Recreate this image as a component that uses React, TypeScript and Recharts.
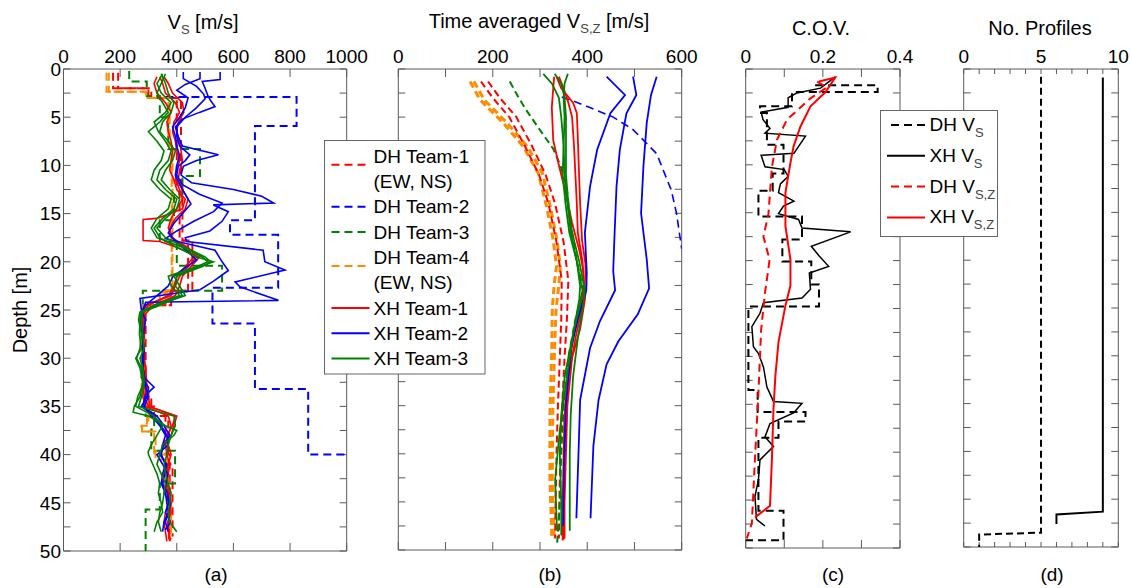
import { Scatter, ScatterChart, XAxis, YAxis } from 'recharts';

type P = [number, number]; // [depth (m), value]

const RED = '#ff0000';
const BLUE = '#0000ff';
const GREEN = '#008000';
const ORANGE = '#ff8c00';
const AXIS = '#5a5a5a';
const FONT = '"Liberation Sans", Arial, Helvetica, sans-serif';

const DEPTH_TICKS = [0, 2.5, 5, 7.5, 10, 12.5, 15, 17.5, 20, 22.5, 25, 27.5, 30, 32.5, 35, 37.5, 40, 42.5, 45, 47.5, 50];
const VS_TICKS = [0, 200, 400, 600, 800, 1000];
const VSZ_TICKS = [0, 100, 200, 300, 400, 500, 600];
const COV_TICKS = [0, 0.1, 0.2, 0.3, 0.4];
const NP_TICKS = [0, 1, 2, 3, 4, 5, 6, 7, 8, 9, 10];

// ---- (a) Vs profiles ----
const A_DH1a: P[] = [[0.4,175],[2.0,175],[2.0,300],[3.0,300],[3.0,400],[12,400],[12,420],[17.8,420],[17.8,440],[23,440],[23,360],[24.5,360],[24.5,285],[33,285],[33,300],[35,300],[35,320],[36,320],[36,360],[40,360],[40,375],[49,375]];
const A_DH1b: P[] = [[0.4,193],[2.0,193],[2.0,310],[3.0,310],[3.0,415],[12,415],[12,410],[17.8,410],[17.8,455],[23,455],[23,380],[24.5,380],[24.5,290],[34,290],[34,310],[36,310],[36,370],[41,370],[41,385],[48.5,385]];
const A_DH2: P[] = [[2.9,360],[2.9,823],[5.9,823],[5.9,676],[15.7,676],[15.7,588],[17.2,588],[17.2,758],[22.7,758],[22.7,526],[26.4,526],[26.4,676],[33.2,676],[33.2,864],[40,864],[40,1000]];
const A_DH3: P[] = [[0.2,232],[1.3,232],[1.3,294],[2.8,294],[2.8,340],[5,340],[5,370],[8.3,370],[8.3,482],[11.1,482],[11.1,420],[13,420],[13,390],[15.7,390],[15.7,340],[17.9,340],[17.9,400],[20.4,400],[20.4,560],[23,560],[23,280],[33,280],[33,290],[36,290],[36,320],[37.4,320],[37.4,310],[39.6,310],[39.6,394],[43,394],[43,340],[45.7,340],[45.7,290],[50,290]];
const A_DH4a: P[] = [[0.4,152],[2.35,152],[2.35,290],[3.0,290],[3.0,370],[8,370],[8,385],[23,385],[23,340],[24.5,340],[24.5,280],[33,280],[33,300],[37,300],[37,275],[37.6,275],[37.6,320],[40,320],[40,365],[45,365],[45,375],[48.8,375]];
const A_DH4b: P[] = [[0.4,160],[2.35,160],[2.35,292],[3.0,292],[3.0,375],[8,375],[8,382],[23.2,382],[23.2,345],[24.7,345],[24.7,276],[33.5,276],[33.5,295],[37,295],[37,277],[37.6,277],[37.6,325],[40.5,325],[40.5,370],[44.5,370],[44.5,380],[48.8,380]];
const A_XH1a: P[] = [[0.8,340],[1.5,350],[2.5,360],[3.5,395],[4.5,410],[5.5,390],[6.5,385],[7.5,395],[8.5,400],[9.5,410],[10.5,400],[11.5,395],[12.5,410],[13.5,420],[14.5,400],[15.5,380],[16.5,370],[17.5,385],[18.5,430],[19.5,460],[20.5,430],[21.5,400],[22.5,390],[23.5,370],[24.5,300],[25.5,280],[26.5,285],[28,282],[30,285],[31.5,290],[33,285],[34,280],[35,290],[36,370],[37,380],[38,370],[39,360],[40,365],[41,375],[42,370],[43,365],[44,375],[45,380],[46,375],[47,370],[48,372],[48.8,372]];
const A_XH1b: P[] = [[0.8,330],[1.5,320],[2.5,330],[3.5,360],[4.5,380],[5.5,365],[6.5,370],[7.5,380],[8.5,385],[9.5,380],[10.5,375],[11.5,390],[12.5,400],[13.5,430],[14.5,420],[15.5,330],[15.6,281],[17.8,281],[17.9,340],[18.5,400],[19.5,480],[20.5,450],[21.5,420],[22.5,410],[23.5,395],[24.5,320],[25.5,285],[27,280],[29,278],[31,290],[33,295],[34,285],[35,300],[36,400],[37,390],[38,380],[39,350],[40,345],[41,360],[42,355],[43,350],[44,365],[45,370],[46,360],[47,355],[48,360],[49,365]];
const A_XH1c: P[] = [[0.8,355],[1.5,370],[2.5,385],[3.5,420],[4.5,425],[5.5,405],[6.5,400],[7.5,410],[8.5,415],[9.5,420],[10.5,410],[11.5,405],[12.5,420],[13.5,440],[14.5,430],[15.5,395],[16.5,375],[17.5,380],[18.5,440],[19.5,470],[20.5,440],[21.5,410],[22.5,395],[23.5,380],[24.5,290],[25.5,275],[27,280],[29,285],[31,280],[33,290],[34,300],[35,305],[36,395],[37,385],[38,365],[39,370],[40,380],[41,370],[42,365],[43,360],[44,370],[45,375],[46,380],[47,368],[48,370],[48.9,378]];
const A_XH2a: P[] = [[0.3,553],[1.1,553],[1.3,490],[2.0,500],[2.8,510],[3.3,520],[3.9,535],[4.5,480],[5.2,420],[6.0,395],[7,405],[8,420],[8.9,547],[9.5,470],[10.1,423],[11,415],[11.8,452],[12.5,600],[13.2,700],[13.9,742],[14.1,529],[14.8,582],[15.8,560],[16.8,517],[17.5,430],[17.9,435],[18.8,705],[20.0,711],[20.85,782],[22.1,606],[22.6,623],[24.0,759],[24.2,290],[25,280],[26,275],[28,282],[30,278],[32,285],[33,320],[33.8,290],[35,280],[36,330],[37,355],[38,375],[39,355],[40,340],[41,365],[42,358],[43,350],[44,368],[45,372],[46,360],[47,378],[47.8,360]];
const A_XH2b: P[] = [[0.3,423],[1.0,423],[1.8,470],[2.6,495],[3.1,500],[4,470],[5,430],[6,400],[7,400],[8,410],[8.9,446],[9.5,430],[10.1,405],[11,400],[12,420],[13,480],[13.9,560],[14.8,530],[15.8,460],[16.8,400],[17.6,360],[18.8,535],[20.0,560],[20.9,582],[22,530],[22.9,482],[23.8,270],[25,275],[26,290],[28,280],[30,282],[32,275],[33,300],[34,295],[35,275],[36,320],[37,345],[38,365],[39,370],[40,330],[41,350],[42,368],[43,362],[44,355],[45,378],[46,370],[47,360],[48,370]];
const A_XH2c: P[] = [[0.3,482],[1.0,482],[1.6,430],[2.2,400],[3,440],[4,430],[5,410],[6,385],[7,395],[8,400],[9,410],[10,400],[11,395],[12,410],[13,430],[14,450],[15,420],[16,390],[17,370],[18,400],[19,440],[19.8,470],[21.5,387],[22.5,370],[23.5,330],[24.5,290],[25.5,270],[27,275],[29,285],[31,280],[33,290],[34,300],[35,285],[36,310],[37,340],[38,360],[39,350],[40,345],[41,360],[42,350],[43,345],[44,360],[45,365],[46,370],[47,355],[48,350]];
const A_XH3a: P[] = [[0.5,350],[1.5,330],[2.5,345],[3.5,380],[4.5,360],[5.5,320],[6.5,335],[7.5,360],[8.5,380],[9.5,370],[10.5,340],[11.5,330],[12.5,360],[13.5,400],[14.5,390],[15.5,350],[16.5,320],[17.5,340],[18.5,400],[19.5,470],[20,529],[20.5,480],[21.5,390],[22.5,410],[23.5,430],[24.5,330],[25.2,275],[26,270],[27.5,268],[29,275],[30,255],[31,270],[32.5,280],[34,270],[35,250],[35.6,246],[36,300],[37,360],[37.5,400],[38,390],[39,350],[40,340],[41,330],[42,345],[43,360],[44,355],[45,350],[46,340],[47,335],[48,345]];
const A_XH3b: P[] = [[0.5,360],[1.5,345],[2.5,330],[3.5,350],[4.5,370],[5.5,340],[6.5,300],[7.5,330],[8.5,355],[9.5,345],[10.5,320],[11.5,310],[12.5,340],[13.5,380],[14.5,370],[15.5,330],[16.5,310],[17.5,330],[18.5,420],[19.5,490],[20,510],[20.5,470],[21.5,370],[22.5,380],[23.5,410],[24.5,320],[25.2,270],[26,265],[27.5,275],[29,270],[30,258],[31,275],[32.5,285],[34,262],[35,255],[36,320],[37,350],[38,330],[39,310],[39.7,299],[40,300],[41,315],[42,330],[43,340],[44,335],[45,345],[46,350],[47,330],[48,320]];
const A_XH3c: P[] = [[0.5,345],[1.5,360],[2.5,370],[3.5,390],[4.5,380],[5.5,350],[6.5,340],[7.5,370],[8.5,395],[9.5,385],[10.5,360],[11.5,345],[12.5,375],[13.5,410],[14.5,400],[15.5,360],[16.5,330],[17.5,360],[18.5,430],[19.5,500],[20,520],[20.5,490],[21.5,400],[22.5,395],[23.5,420],[24.5,340],[25.2,280],[26,275],[27.5,280],[29,285],[30,270],[31,280],[32.5,285],[34,275],[35,265],[36,390],[37,395],[38,380],[39,370],[40,365],[41,355],[42,360],[43,370],[44,380],[45,375],[46,370],[47,375],[48,400]];

// ---- (b) time averaged Vs,z ----
const B_DH1a: P[] = [[1.3,175],[3,200],[5,235],[8,268],[11,298],[14,318],[18,335],[22,346],[26,345],[30,342],[35,338],[40,335],[45,333],[48.8,332]];
const B_DH1b: P[] = [[1.3,190],[3,215],[5,250],[8,283],[11,312],[14,332],[18,350],[22,360],[26,357],[30,352],[35,347],[40,343],[45,341],[48.8,340]];
const B_DH2: P[] = [[2.9,346],[3.6,385],[5,455],[6.3,497],[8.8,547],[12.6,578],[15,589],[18.7,600]];
const B_DH3: P[] = [[1.3,236],[3,255],[4.2,270],[6,295],[8.3,328],[10,343],[12.1,356],[16,365],[20,378],[23,392],[26,375],[30,360],[35,350],[40,345],[45,342],[49.5,336]];
const B_DH4a: P[] = [[1.3,152],[3.2,173],[5.6,222],[8.1,265],[10.8,296],[14.3,314],[17.8,328],[20.5,335],[22.4,330],[25,326],[28.9,325],[35.8,321],[42.7,321],[48.6,325]];
const B_DH4b: P[] = [[1.3,160],[3.2,182],[5.6,230],[8.1,274],[10.8,305],[14.3,322],[17.8,336],[20.5,343],[22.4,340],[25,334],[28.9,331],[35.8,327],[42.7,326],[48.6,330]];
const B_XH1a: P[] = [[0.8,335],[2,345],[3.5,370],[4.6,378],[7,380],[10,382],[14,385],[17.8,389],[20.2,396],[22.5,398],[24,395],[27,385],[30,368],[35,358],[40,355],[45,352],[48.8,352]];
const B_XH1b: P[] = [[0.8,330],[2,328],[4,325],[7.4,328],[10,340],[13,355],[16,368],[19,384],[21,392],[23,394],[25,388],[28,375],[32,360],[36,352],[40,350],[45,348],[49,348]];
const B_XH1c: P[] = [[0.8,340],[2,350],[3.5,360],[5,368],[8,372],[11,375],[14,378],[17,380],[20,390],[22.5,393],[25,385],[28,370],[32,358],[36,352],[40,352],[45,350],[48.9,350]];
const B_XH2a: P[] = [[0.8,441],[2.7,480],[4.6,449],[8.4,421],[12.2,406],[17,395],[21.2,399],[23,398],[26,380],[29,366],[35,355],[41,351],[47.5,349]];
const B_XH2b: P[] = [[0.8,497],[2.7,504],[4.6,483],[8.4,469],[12.2,462],[17,458],[21,455],[23,459],[26.2,427],[29,406],[34.4,385],[39.2,382],[46.7,377]];
const B_XH2c: P[] = [[0.8,547],[2.7,535],[5.6,526],[10.1,519],[15,514],[19.8,526],[22.8,531],[25.5,507],[28.3,466],[30.7,441],[34.4,424],[39.2,413],[46.7,407]];
const B_XH3a: P[] = [[0.5,307],[1.5,325],[3,340],[5,345],[8,350],[11,352],[14,358],[17,365],[20,378],[22.6,385],[24,383],[27,372],[32,357],[37.5,342],[42.7,332],[48,336]];
const B_XH3b: P[] = [[0.5,331],[1.5,345],[3,352],[5,355],[8,355],[11,355],[14,360],[17,368],[20,383],[23,395],[25,390],[28,380],[32,370],[36,365],[40,363],[45,363],[48,363]];
const B_XH3c: P[] = [[0.5,359],[1.5,352],[3,350],[5,352],[8,350],[11,348],[14,354],[17,362],[20,378],[23,390],[25,382],[28,368],[32,352],[36,345],[40,342],[45,345],[48.5,345]];

// ---- (c) coefficient of variation ----
const C_DH_VS: P[] = [[1.7,0.18],[1.7,0.342],[2.4,0.342],[2.4,0.12],[3.9,0.12],[3.9,0.037],[4.6,0.037],[4.6,0.055],[7.9,0.055],[7.9,0.098],[10.9,0.098],[10.9,0.07],[12.7,0.07],[12.7,0.033],[15.4,0.033],[15.4,0.146],[17.8,0.146],[17.8,0.095],[20.1,0.095],[20.1,0.17],[22.5,0.17],[22.5,0.19],[24.8,0.19],[24.8,0.007],[33.5,0.007],[33.5,0.031],[35.8,0.031],[35.8,0.155],[36.8,0.155],[36.8,0.085],[38.5,0.085],[38.5,0.033],[46.1,0.033],[46.1,0.098],[49.2,0.098],[49.2,0.0]];
const C_XH_VS: P[] = [[0.8,0.233],[2.0,0.194],[2.5,0.133],[3.0,0.11],[4.0,0.11],[4.5,0.04],[5.3,0.045],[6.2,0.063],[6.7,0.05],[7.0,0.155],[8.8,0.125],[9.0,0.04],[10.2,0.05],[10.5,0.1],[11.2,0.11],[12.0,0.09],[12.9,0.085],[13.8,0.125],[14.3,0.098],[15.1,0.085],[15.7,0.137],[16.6,0.146],[17.0,0.272],[18.5,0.17],[19.5,0.19],[20.6,0.215],[21.3,0.165],[23.0,0.168],[23.9,0.146],[24.4,0.046],[25.5,0.037],[26.9,0.016],[29,0.02],[29.7,0.033],[31.1,0.046],[33.2,0.055],[34.7,0.072],[34.9,0.146],[35.9,0.124],[37,0.063],[38.4,0.05],[39.4,0.072],[40.8,0.037],[42.9,0.033],[44.6,0.024],[47,0.028],[47.7,0.05]];
const C_DH_VSZ: P[] = [[1.33,0.185],[1.9,0.211],[3.06,0.168],[5.3,0.107],[7.4,0.081],[10.2,0.068],[15.1,0.059],[17.5,0.046],[19.9,0.062],[23.4,0.05],[27.2,0.04],[33.8,0.033],[40.7,0.024],[47.4,0.016],[49,0.003]];
const C_XH_VSZ: P[] = [[1.3,0.19],[0.9,0.232],[2.4,0.207],[3.9,0.168],[6.0,0.142],[8.1,0.124],[9.8,0.116],[12.9,0.103],[16.4,0.103],[19.9,0.116],[22.6,0.116],[24.7,0.103],[28.5,0.085],[32,0.077],[35.5,0.072],[40.7,0.068],[45.6,0.063],[46.8,0.024]];

// ---- (d) number of profiles ----
const D_DH: P[] = [[0.8,5],[48.5,5],[48.7,1],[50,1]];
const D_XH: P[] = [[0.9,9],[46.3,9],[46.6,6],[47.6,6]];

interface Series { pts: P[]; color: string; w: number; dash?: string }

const DASH = '8 5';

const SERIES_A: Series[] = [
  { pts: A_DH1a, color: RED, w: 2, dash: DASH },
  { pts: A_DH1b, color: RED, w: 2, dash: DASH },
  { pts: A_DH2, color: BLUE, w: 2, dash: DASH },
  { pts: A_DH3, color: GREEN, w: 2, dash: DASH },
  { pts: A_DH4a, color: ORANGE, w: 2, dash: DASH },
  { pts: A_DH4b, color: ORANGE, w: 2, dash: DASH },
  { pts: A_XH1a, color: RED, w: 1.6 },
  { pts: A_XH1b, color: RED, w: 1.6 },
  { pts: A_XH1c, color: RED, w: 1.6 },
  { pts: A_XH2a, color: BLUE, w: 1.6 },
  { pts: A_XH2b, color: BLUE, w: 1.6 },
  { pts: A_XH2c, color: BLUE, w: 1.6 },
  { pts: A_XH3a, color: GREEN, w: 1.6 },
  { pts: A_XH3b, color: GREEN, w: 1.6 },
  { pts: A_XH3c, color: GREEN, w: 1.6 },
];

const SERIES_B: Series[] = [
  { pts: B_DH4a, color: ORANGE, w: 3, dash: '7 4' },
  { pts: B_DH4b, color: ORANGE, w: 3, dash: '7 4' },
  { pts: B_DH1a, color: RED, w: 2, dash: '7 4' },
  { pts: B_DH1b, color: RED, w: 2, dash: '7 4' },
  { pts: B_DH2, color: BLUE, w: 1.6, dash: DASH },
  { pts: B_DH3, color: GREEN, w: 2, dash: '7 4' },
  { pts: B_XH1a, color: RED, w: 1.8 },
  { pts: B_XH1b, color: RED, w: 1.8 },
  { pts: B_XH1c, color: RED, w: 1.8 },
  { pts: B_XH2a, color: BLUE, w: 1.8 },
  { pts: B_XH2b, color: BLUE, w: 1.8 },
  { pts: B_XH2c, color: BLUE, w: 1.8 },
  { pts: B_XH3a, color: GREEN, w: 1.8 },
  { pts: B_XH3b, color: GREEN, w: 1.8 },
  { pts: B_XH3c, color: GREEN, w: 1.8 },
];

const SERIES_C: Series[] = [
  { pts: C_DH_VS, color: '#000', w: 2, dash: DASH },
  { pts: C_XH_VS, color: '#000', w: 1.5 },
  { pts: C_DH_VSZ, color: RED, w: 2, dash: DASH },
  { pts: C_XH_VSZ, color: RED, w: 2 },
];

const SERIES_D: Series[] = [
  { pts: D_DH, color: '#000', w: 2, dash: '7 4' },
  { pts: D_XH, color: '#000', w: 2 },
];

const EmptyDot = () => <g />;
const blank = () => '';
const TICK = { fill: '#000', fontSize: 19, fontFamily: FONT };

interface PanelProps {
  left: number; width: number;
  plot: { l: number; r: number; t: number; b: number };
  domain: [number, number]; ticks: number[];
  xFmt: (v: number, i: number) => string;
  depthLabels?: boolean;
  xTick?: number;
  series: Series[];
}

function Panel({ left, width, plot, domain, ticks, xFmt, depthLabels, xTick = 8, series }: PanelProps) {
  const yw = depthLabels ? 30 : 10;
  const margin = { top: plot.t - 20, bottom: 588 - plot.b - 10, left: plot.l - left - yw, right: left + width - plot.r - 10 };
  return (
    <div style={{ position: 'absolute', left, top: 0 }}>
      <ScatterChart width={width} height={588} margin={margin}>
        <XAxis xAxisId="t" orientation="top" type="number" dataKey="v" domain={domain} ticks={ticks} interval={0}
          allowDataOverflow height={20} tickSize={-xTick} tickMargin={xTick + 6} tickFormatter={xFmt}
          axisLine={{ stroke: AXIS }} tickLine={{ stroke: AXIS }} tick={TICK} />
        <XAxis xAxisId="b" orientation="bottom" type="number" dataKey="v" domain={domain} ticks={ticks} interval={0}
          allowDataOverflow height={10} tickSize={-xTick} tickFormatter={blank}
          axisLine={{ stroke: AXIS }} tickLine={{ stroke: AXIS }} tick={TICK} />
        <YAxis yAxisId="l" orientation="left" type="number" dataKey="d" reversed domain={[0, 50]} ticks={DEPTH_TICKS}
          interval={0} allowDataOverflow width={yw} tickSize={-7} tickMargin={9.5}
          tickFormatter={depthLabels ? (v: number) => (v % 5 === 0 ? String(v) : '') : blank}
          axisLine={{ stroke: AXIS }} tickLine={{ stroke: AXIS }} tick={TICK} />
        <YAxis yAxisId="r" orientation="right" type="number" dataKey="d" reversed domain={[0, 50]} ticks={DEPTH_TICKS}
          interval={0} allowDataOverflow width={10} tickSize={-7} tickFormatter={blank}
          axisLine={{ stroke: AXIS }} tickLine={{ stroke: AXIS }} tick={TICK} />
        {series.map((s, i) => (
          <Scatter key={i} data={s.pts.map(([d, v]) => ({ d, v }))} xAxisId="t" yAxisId="l" fill="none"
            line={{ stroke: s.color, strokeWidth: s.w, strokeDasharray: s.dash }}
            shape={EmptyDot} legendType="none" isAnimationActive={false} />
        ))}
      </ScatterChart>
    </div>
  );
}

const LEGEND_AB = [
  { text: ['DH Team-1', '(EW, NS)'], color: RED, dash: true },
  { text: ['DH Team-2'], color: BLUE, dash: true },
  { text: ['DH Team-3'], color: GREEN, dash: true },
  { text: ['DH Team-4', '(EW, NS)'], color: ORANGE, dash: true },
  { text: ['XH Team-1'], color: RED, dash: false },
  { text: ['XH Team-2'], color: BLUE, dash: false },
  { text: ['XH Team-3'], color: GREEN, dash: false },
];

const LEGEND_C = [
  { name: 'DH V', sub: 'S', color: '#000', dash: true },
  { name: 'XH V', sub: 'S', color: '#000', dash: false },
  { name: 'DH V', sub: 'S,Z', color: RED, dash: true },
  { name: 'XH V', sub: 'S,Z', color: RED, dash: false },
];

function Overlay() {
  let row = 0;
  const abItems = LEGEND_AB.map((it, i) => {
    const base = 162.7 + 25.3 * row;
    row += it.text.length;
    const ly = it.text.length > 1 ? base + 2 : base - 6.5;
    return (
      <g key={i}>
        <line x1={331.5} x2={369.5} y1={ly} y2={ly} stroke={it.color} strokeWidth={2} strokeDasharray={it.dash ? '8 5' : undefined} />
        {it.text.map((t, j) => (
          <text key={j} x={373.5} y={base + 25.3 * j} fontSize={19}>{t}</text>
        ))}
      </g>
    );
  });
  return (
    <svg width={1131} height={588} style={{ position: 'absolute', left: 0, top: 0, pointerEvents: 'none' }} fontFamily={FONT}>
      <text x={203} y={29} fontSize={20} textAnchor="middle">V<tspan dy={5} fontSize={13} fill="#444">S</tspan><tspan dy={-5}> [m/s]</tspan></text>
      <text x={539} y={28} fontSize={20} textAnchor="middle">Time averaged V<tspan dy={5} fontSize={13} fill="#444">S,Z</tspan><tspan dy={-5}> [m/s]</tspan></text>
      <text x={821} y={35} fontSize={20} textAnchor="middle">C.O.V.</text>
      <text x={1040} y={35} fontSize={20} textAnchor="middle">No. Profiles</text>
      <text transform="translate(27,310) rotate(-90)" fontSize={20} textAnchor="middle">Depth [m]</text>
      <text x={216} y={581} fontSize={19} textAnchor="middle">(a)</text>
      <text x={550} y={581} fontSize={19} textAnchor="middle">(b)</text>
      <text x={833} y={581} fontSize={19} textAnchor="middle">(c)</text>
      <text x={1052} y={581} fontSize={19} textAnchor="middle">(d)</text>

      <rect x={324.5} y={140.5} width={160.5} height={233.5} fill="#fff" stroke="#666" />
      {abItems}

      <rect x={880.5} y={110.5} width={117} height={126} fill="#fff" stroke="#666" />
      {LEGEND_C.map((it, i) => {
        const base = 131 + 30.8 * i;
        return (
          <g key={i}>
            <line x1={it.dash ? 891 : 887} x2={925} y1={base - 6} y2={base - 6} stroke={it.color} strokeWidth={2} strokeDasharray={it.dash ? '8 5' : undefined} />
            <text x={929.5} y={base} fontSize={19}>{it.name}<tspan dy={6} fontSize={13} fill="#444">{it.sub}</tspan></text>
          </g>
        );
      })}
    </svg>
  );
}

export default function App() {
  return (
    <div style={{ position: 'absolute', left: 0, top: 0, width: 1131, height: 588, background: '#fff', fontFamily: FONT }}>
      <Panel left={0} width={372} plot={{ l: 63.5, r: 346.7, t: 69, b: 551 }} domain={[0, 1000]} ticks={VS_TICKS}
        xFmt={(v) => String(v)} depthLabels series={SERIES_A} />
      <Panel left={372} width={340} plot={{ l: 398.3, r: 681.7, t: 69, b: 550 }} domain={[0, 600]} ticks={VSZ_TICKS}
        xFmt={(v) => (v % 200 === 0 ? String(v) : '')} series={SERIES_B} />
      <Panel left={712} width={218} plot={{ l: 745.7, r: 900, t: 69, b: 548 }} domain={[0, 0.4]} ticks={COV_TICKS}
        xFmt={(v, i) => (i % 2 === 0 ? String(v) : '')} series={SERIES_C} />
      <Panel left={930} width={201} plot={{ l: 963.7, r: 1118.3, t: 69, b: 547 }} domain={[0, 10]} ticks={NP_TICKS}
        xFmt={(v) => (v % 5 === 0 ? String(v) : '')} xTick={5} series={SERIES_D} />
      <Overlay />
    </div>
  );
}
